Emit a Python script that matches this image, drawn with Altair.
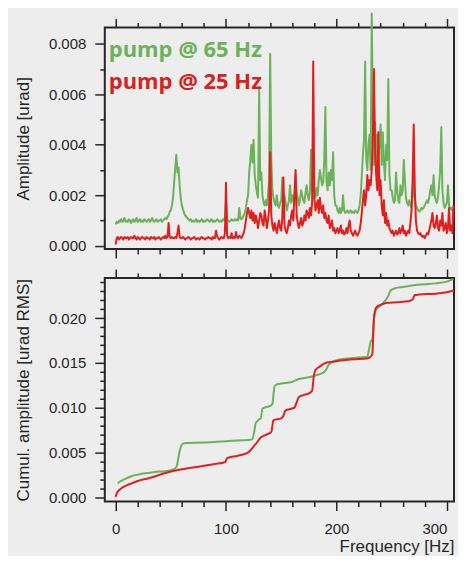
import altair as alt
import pandas as pd

# ---------------- data (amplitudes in 1e-3 urad) ----------------
series_names = ["pump @ 65 Hz", "pump @ 25 Hz"]
series_colors = ["#6cb25a", "#e0201f"]

freq_hz = list(range(0, 307))

amp_65 = [
    0.85, 0.95, 0.9, 1.0, 0.95, 1.05, 0.95, 1.0, 1.1, 0.95,
    1.0, 0.95, 1.05, 1.0, 0.9, 1.0, 1.05, 0.95, 1.0, 1.1,
    0.95, 1.0, 1.05, 0.95, 1.0, 0.95, 1.05, 1.0, 0.95, 1.0,
    1.05, 0.95, 1.0, 1.1, 1.0, 0.95, 1.0, 1.05, 0.95, 1.0,
    1.0, 1.05, 0.95, 1.0, 1.05, 1.1, 1.05, 1.15, 1.2, 1.35,
    1.4, 1.6, 1.9, 2.5, 3.1, 3.6, 2.9, 3.1, 2.4, 1.9,
    1.6, 1.45, 1.3, 1.2, 1.15, 1.1, 1.05, 1.0, 1.05, 0.95,
    1.0, 0.95, 1.0, 1.05, 0.95, 1.0, 0.95, 1.0, 1.05, 0.95,
    1.0, 0.95, 1.0, 1.05, 1.0, 0.95, 1.0, 1.05, 0.95, 1.0,
    0.95, 1.0, 1.05, 1.0, 0.95, 1.0, 0.95, 1.05, 1.0, 1.1,
    1.7, 1.05, 1.0, 0.95, 1.0, 1.05, 1.0, 1.0, 1.05, 1.0,
    1.05, 1.0, 1.5, 1.1, 1.05, 1.1, 1.2, 1.3, 1.5, 1.8,
    2.0, 2.9, 3.4, 4.0, 3.3, 4.2, 2.8, 2.4, 2.1, 1.9,
    6.2, 2.6, 2.9, 2.0, 1.7, 1.6, 1.8, 1.6, 2.0, 2.6,
    7.6, 3.4, 2.2, 1.9, 1.7, 1.6, 2.0, 1.6, 1.5, 1.7,
    1.8, 2.7, 1.6, 2.0, 1.7, 1.4, 1.6, 1.8, 2.4, 1.7,
    2.0, 1.8, 1.6, 2.8, 2.1, 1.9, 1.6, 1.8, 2.2, 2.0,
    1.8, 1.7, 2.1, 2.4, 2.0, 1.8, 2.1, 3.8, 2.2, 2.6,
    2.2, 1.9, 2.3, 2.0, 2.6, 3.0, 2.7, 2.4, 2.5, 3.4,
    5.5, 2.6, 2.2, 2.9, 2.4, 3.0, 2.6, 3.7, 2.0, 1.6,
    1.6, 1.4, 1.3, 1.5, 1.3, 1.4, 2.0, 1.4, 1.3, 1.35,
    1.4, 1.3, 1.35, 1.4, 1.3, 1.35, 1.3, 1.4, 1.35, 1.3,
    1.4, 1.6, 2.0, 2.8, 3.6, 4.2, 7.3, 3.4, 3.0, 4.0,
    4.4, 3.0, 9.2, 5.2, 3.2, 4.9, 3.0, 4.4, 3.6, 4.0,
    4.8, 3.2, 4.5, 3.3, 2.6, 4.0, 3.4, 6.6, 2.8, 2.2,
    2.2, 1.9, 1.7, 1.8, 2.9, 2.2, 1.8, 1.7, 2.4, 2.0,
    2.2, 3.4, 2.6, 1.9, 1.7, 1.6, 1.8, 1.6, 1.5, 2.0,
    2.6, 1.8, 1.6, 1.5, 1.4, 1.35, 1.4, 1.5, 1.45, 1.5,
    1.6, 1.7, 1.8, 1.7, 1.9, 2.2, 2.4, 2.0, 2.8, 2.0,
    1.8, 1.7, 1.9, 2.4, 3.0, 4.7, 2.2, 1.7, 1.5, 1.6,
    1.7, 2.4, 1.6, 1.45, 1.5, 1.4, 1.35,
]

amp_25 = [
    0.05, 0.3, 0.35, 0.25, 0.3, 0.35, 0.3, 0.25, 0.35, 0.3,
    0.3, 0.35, 0.25, 0.3, 0.35, 0.3, 0.3, 0.4, 0.3, 0.25,
    0.35, 0.3, 0.25, 0.3, 0.35, 0.3, 0.3, 0.25, 0.35, 0.3,
    0.3, 0.25, 0.35, 0.3, 0.3, 0.35, 0.25, 0.3, 0.3, 0.35,
    0.3, 0.25, 0.3, 0.35, 0.3, 0.4, 0.3, 0.35, 0.9, 0.35,
    0.3, 0.35, 0.3, 0.3, 0.35, 0.3, 0.5, 0.8, 0.35, 0.3,
    0.3, 0.35, 0.3, 0.25, 0.3, 0.3, 0.35, 0.3, 0.25, 0.3,
    0.3, 0.35, 0.3, 0.25, 0.3, 0.3, 0.25, 0.3, 0.35, 0.3,
    0.3, 0.25, 0.3, 0.3, 0.35, 0.3, 0.3, 0.25, 0.35, 0.3,
    0.3, 0.6, 0.35, 0.3, 0.25, 0.3, 0.35, 0.3, 0.3, 0.5,
    2.5, 0.4, 0.3, 0.35, 0.3, 0.5, 0.3, 0.35, 0.3, 0.55,
    0.35, 0.3, 0.4, 0.35, 0.3, 0.4, 0.5, 0.7, 1.0, 1.3,
    1.5, 1.3, 1.1, 1.4, 1.0, 1.3, 0.9, 1.2, 1.0, 0.7,
    1.0, 1.3, 1.2, 0.9, 0.8, 1.4, 1.1, 0.7, 1.0, 1.4,
    3.7, 1.2, 0.8, 0.6, 0.9, 0.7, 0.5, 0.8, 1.0, 0.7,
    0.6, 1.1, 2.7, 0.8, 0.6, 0.5, 0.7, 1.0, 0.8, 1.2,
    1.4, 1.0, 2.1, 3.0, 1.2, 0.9, 0.7, 0.9, 1.1, 0.8,
    0.9, 1.2, 1.0, 1.4, 1.3, 1.1, 1.5, 1.2, 1.7, 7.3,
    1.9, 1.4, 1.6, 1.8, 1.3, 1.9, 1.5, 1.3, 1.6, 1.1,
    1.3, 1.0, 0.9, 1.2, 0.7, 0.8, 1.0, 0.6, 0.7, 0.5,
    0.6, 0.7, 0.5, 0.6, 0.8, 0.5, 0.6, 0.45, 0.5, 0.7,
    0.5, 0.8, 1.0, 0.6, 0.5, 0.4, 0.5, 0.6, 0.45, 0.4,
    0.5, 0.6, 0.9, 1.3, 1.8, 2.2, 1.6, 2.0, 2.8, 2.2,
    2.6, 2.4, 3.0, 4.4, 7.0, 3.8, 2.8, 2.2, 4.5, 2.0,
    2.6, 1.6, 1.2, 1.8, 0.9, 1.3, 0.8, 1.0, 0.7, 0.6,
    0.5, 0.6, 0.4, 0.5, 0.6, 0.45, 0.5, 0.7, 0.5, 0.6,
    0.8, 0.5, 0.6, 0.4, 0.5, 0.6, 0.5, 0.9, 1.4, 2.6,
    4.8, 2.2, 1.0, 0.6, 0.5, 0.45, 0.5, 0.4, 0.35, 0.4,
    0.3, 0.4, 0.5, 0.45, 0.6, 0.8, 1.0, 1.3, 0.8, 0.7,
    0.9, 1.2, 0.7, 0.6, 1.0, 0.8, 1.3, 0.6, 0.7, 0.9,
    0.5, 0.7, 1.5, 0.6, 0.8, 0.5, 1.6,
]

# cumulative amplitude (1e-3 urad RMS)
cum_freq_65 = [2, 5, 10, 15, 20, 30, 40, 45, 50, 52,
               54, 55.5, 57, 58.5, 60, 61.5, 64, 80, 100, 115,
               122, 124, 125.5, 127, 128.5, 130, 131.5, 133, 135, 140,
               142, 143, 144, 146, 150, 160, 166, 175, 181, 186,
               190, 193, 196, 200, 210, 220, 228, 229.5, 231, 232.5,
               234, 236, 239, 243, 247, 249, 252, 260, 270, 280,
               290, 300, 306]
cum_65 = [1.55, 1.8, 2.1, 2.35, 2.5, 2.7, 2.85, 2.9, 3.0, 3.1,
          3.2, 3.5, 4.5, 5.4, 5.85, 6.0, 6.05, 6.1, 6.25, 6.35,
          6.4, 6.5, 7.3, 8.3, 8.5, 8.7, 8.8, 9.9, 10.0, 10.2,
          10.4, 11.5, 12.4, 12.6, 12.7, 12.9, 13.2, 13.4, 13.6, 13.8,
          14.1, 14.8, 15.1, 15.3, 15.5, 15.6, 15.7, 16.5, 17.4, 17.6,
          20.0, 21.0, 21.3, 21.8, 22.5, 23.1, 23.3, 23.5, 23.7, 23.8,
          23.9, 24.1, 24.4]

cum_freq_25 = [0, 1, 3, 6, 10, 15, 20, 30, 45, 60,
               75, 90, 98, 99.5, 101, 110, 119, 122, 125, 128,
               131, 135, 139.5, 141, 143, 150, 152, 154, 160, 162,
               164, 166, 170, 175, 178, 179.5, 181, 185, 190, 195,
               200, 215, 228, 231, 232.5, 234, 236, 240, 245, 255,
               265, 269, 271, 275, 290, 300, 306.5]
cum_25 = [0.0, 0.4, 0.75, 1.05, 1.3, 1.56, 1.8, 2.1, 2.68, 3.1,
          3.4, 3.7, 3.87, 3.95, 4.36, 4.6, 4.9, 5.2, 5.65, 6.1,
          6.6, 6.9, 7.15, 7.3, 8.6, 8.8, 9.1, 9.7, 9.9, 10.0,
          10.6, 11.2, 11.4, 11.6, 11.9, 13.5, 14.2, 14.6, 15.0, 15.1,
          15.2, 15.4, 15.5, 15.7, 16.0, 20.0, 21.2, 21.5, 21.7, 21.8,
          21.9, 22.1, 22.6, 22.65, 22.75, 22.9, 23.1]

x_tick_values = list(range(0, 301, 20))
amp_tick_values = [i / 1000 for i in range(0, 9)]
cum_tick_values = [i / 1000 for i in range(0, 25)]

# ---------------- tables ----------------
spec_65 = pd.DataFrame({"freq": freq_hz, "amp": [v / 1000 for v in amp_65]})
spec_25 = pd.DataFrame({"freq": freq_hz, "amp": [v / 1000 for v in amp_25]})
cumt_65 = pd.DataFrame({"freq": cum_freq_65, "amp": [v / 1000 for v in cum_65]})
cumt_25 = pd.DataFrame({"freq": cum_freq_25, "amp": [v / 1000 for v in cum_25]})

# ---------------- styling ----------------
FONT = "Liberation Sans"
INK = "#262626"
BG = "#ededed"
PANEL_W = 350

x_scale = alt.Scale(domain=[-9.8, 306.5], nice=False, zero=False)
amp_scale = alt.Scale(domain=[-0.00013, 0.00864], nice=False, zero=False)
cum_scale = alt.Scale(domain=[-0.0005, 0.0245], nice=False, zero=False)


def x_axis(orient, labels, title=None):
    kw = dict(
        orient=orient, values=x_tick_values, grid=False, domain=False,
        tickSize={"condition": {"test": "datum.value % 100 === 0", "value": 9}, "value": 5},
        tickColor=INK, tickWidth=1.5, labels=labels, labelOverlap=False,
    )
    if labels:
        kw.update(labelExpr="datum.value % 100 === 0 ? datum.label : ''",
                  labelFontSize=15, labelColor=INK, labelFont=FONT,
                  labelPadding=11, labelFlush=8)
    if title:
        kw.update(title=title, titleAnchor="end", titleAlign="right",
                  titleX=PANEL_W, titleFontSize=17,
                  titleFontWeight="normal", titleFont=FONT, titleColor=INK,
                  titlePadding=2)
    else:
        kw["title"] = None
    return alt.Axis(**kw)


def y_axis(values, step, title):
    test = f"round(datum.value * 1000) % {step} === 0"
    return alt.Axis(
        orient="left", values=values, grid=False, domain=False,
        tickSize={"condition": {"test": test, "value": 10}, "value": 5},
        tickColor=INK, tickWidth=1.5,
        labelExpr=f"{test} ? format(datum.value, '.3f') : ''",
        labelOverlap=False, labelFontSize=15, labelColor=INK, labelFont=FONT,
        labelPadding=9,
        title=title, titleFontSize=17, titleFontWeight="normal", titleFont=FONT,
        titleColor=INK, titlePadding=16,
    )


def panel(df_g, df_r, yscale, yaxis, x_bottom_axis, interp):
    g = alt.Chart(df_g).mark_line(
        strokeWidth=2, color=series_colors[0], interpolate=interp, strokeJoin="round"
    ).encode(
        x=alt.X("freq:Q", scale=x_scale, axis=x_bottom_axis),
        y=alt.Y("amp:Q", scale=yscale, axis=yaxis),
    )
    r = alt.Chart(df_r).mark_line(
        strokeWidth=2, color=series_colors[1], interpolate=interp, strokeJoin="round"
    ).encode(
        x=alt.X("freq:Q", scale=x_scale, axis=x_axis("top", False)),
        y=alt.Y("amp:Q", scale=yscale, axis=yaxis),
    )
    return g, r


g1, r1 = panel(spec_65, spec_25, amp_scale,
               y_axis(amp_tick_values, 2, "Amplitude [urad]"),
               x_axis("bottom", False), "linear")

leg_g = alt.Chart().mark_text(
    align="left", baseline="alphabetic", font="Open Sans", fontWeight="bold",
    fontSize=22, color=series_colors[0],
).encode(x=alt.value(4), y=alt.value(29), text=alt.value(series_names[0]))
leg_r = alt.Chart().mark_text(
    align="left", baseline="alphabetic", font="Open Sans", fontWeight="bold",
    fontSize=22, color="#d42323",
).encode(x=alt.value(4), y=alt.value(62), text=alt.value(series_names[1]))

top = alt.layer(g1, r1, leg_g, leg_r).resolve_axis(x="independent").properties(width=PANEL_W, height=222)

g2, r2 = panel(cumt_65, cumt_25, cum_scale,
               y_axis(cum_tick_values, 5, "Cumul. amplitude [urad RMS]"),
               x_axis("bottom", True, "Frequency [Hz]"), "monotone")
bottom = alt.layer(g2, r2).resolve_axis(x="independent").properties(width=PANEL_W, height=224)

chart = alt.vconcat(top, bottom, spacing=7).properties(
    padding={"left": 5, "top": 2, "right": 2, "bottom": 0},
    background=BG,
).configure_view(stroke=INK, strokeWidth=2, fill=BG)

chart.save("out.html", embed_options={"renderer": "svg", "actions": False})
